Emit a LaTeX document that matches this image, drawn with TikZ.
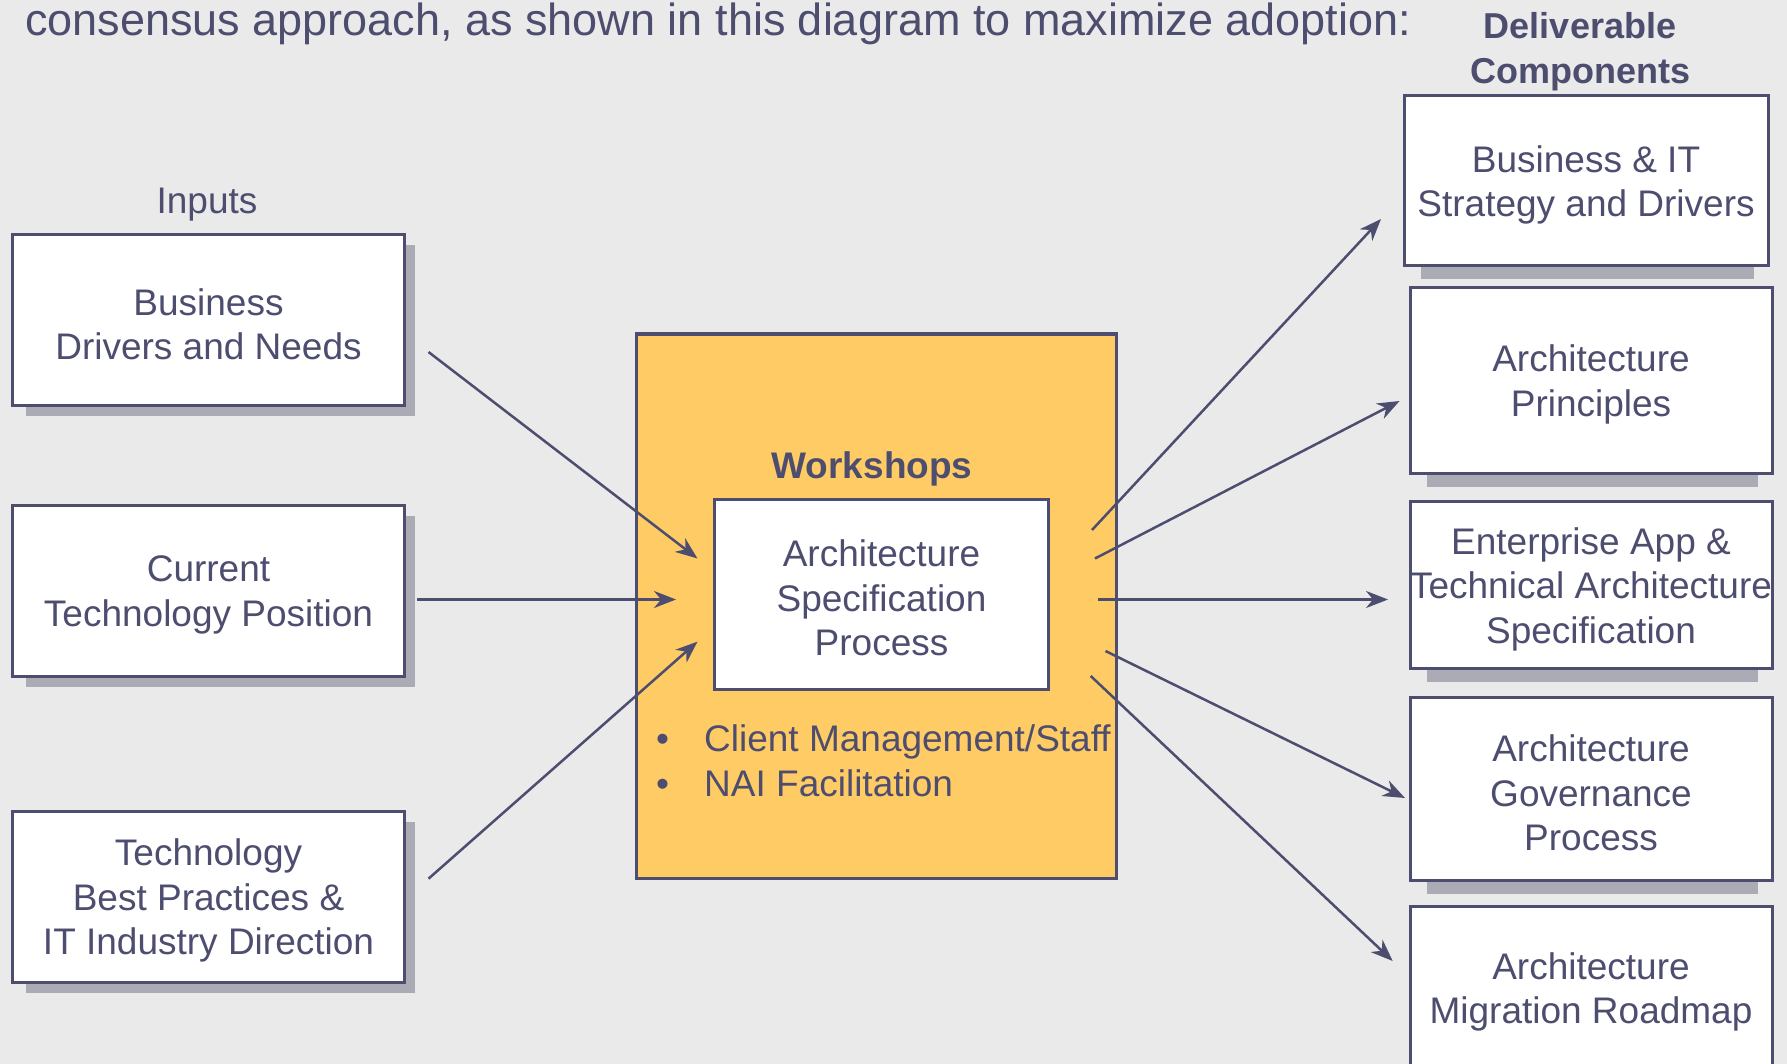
\documentclass[tikz,border=0pt]{standalone}
\usepackage{fontspec}
\setmainfont{Liberation Sans}
\usetikzlibrary{arrows.meta,calc}
\definecolor{ink}{HTML}{4D4D70}
\definecolor{bgc}{HTML}{EAEAEA}
\definecolor{wsfill}{HTML}{FFCB64}
\definecolor{shadowc}{HTML}{ABABB5}
\definecolor{shadowl}{HTML}{C8C8CE}
\newcommand{\tst}{\rule{0pt}{35pt}}
\pgfdeclarelayer{back}
\pgfdeclarelayer{shade}
\pgfsetlayers{back,shade,main}
\begin{document}
\begin{tikzpicture}[x=1pt,y=-1pt,
  txt/.style={font=\fontsize{37pt}{44.5pt}\selectfont, text=ink, align=center, inner sep=0pt},
  box/.style={txt, draw=ink, line width=3pt, fill=white, rectangle},
  conn/.style={draw=ink, line width=2.5pt, -{Stealth[length=22pt,width=17pt,inset=7pt]}},
  lshadow/.style={fill=shadowc},
]
\useasboundingbox (0,0) rectangle (1787,1064);
\clip (0,0) rectangle (1787,1064);
\begin{pgfonlayer}{back}
  \fill[bgc] (0,0) rectangle (1787,1064);
\end{pgfonlayer}

% title
\node[anchor=base west, font=\fontsize{45pt}{54pt}\selectfont, text=ink, inner sep=0pt] (title) at (25,36)
  {consensus approach, as shown in this diagram to maximize adoption:};
\node[txt, font=\bfseries\fontsize{36pt}{44.5pt}\selectfont] (deliv) at (1580,47) {\tst Deliverable\\Components};

% inputs
\node[txt] (inputs) at (207,200) {\tst Inputs};
\node[box, minimum width=392pt, minimum height=170pt] (in1) at (208.5,320) {\tst Business\\Drivers and Needs};
\node[box, minimum width=392pt, minimum height=171pt] (in2) at (208.5,590.5) {\tst Current\\Technology Position};
\node[box, minimum width=392pt, minimum height=171pt] (in3) at (208.5,896.5) {\tst Technology\\Best Practices \&\\IT Industry Direction};

% workshop
\node[draw=ink, line width=3pt, fill=wsfill, minimum width=480pt, minimum height=544pt, inner sep=0pt] (ws) at (876,606) {};
\node[txt, font=\bfseries\fontsize{37pt}{44.5pt}\selectfont] (wstitle) at (872,465) {\tst Workshops};
\node[box, minimum width=334pt, minimum height=190pt] (spec) at (881.5,594) {\tst Architecture\\Specification\\Process};
\node[txt, anchor=base west] (bul1) at (656,751.5) {\makebox[48pt][l]{•}Client Management/Staff};
\node[txt, anchor=base west] (bul2) at (656,796) {\makebox[48pt][l]{•}NAI Facilitation};

% outputs
\node[box, minimum width=364pt, minimum height=170pt] (r1) at (1586,180.6) {\tst Business \& IT\\Strategy and Drivers};
\node[box, minimum width=362pt, minimum height=185pt] (r2) at (1591,380.5) {\tst Architecture\\Principles};
\node[box, minimum width=362pt, minimum height=167.5pt] (r3) at (1591,585) {\tst Enterprise App \&\\\makebox[340pt]{Technical Architecture}\\Specification};
\node[box, minimum width=362pt, minimum height=183.5pt] (r4) at (1591,789) {\tst Architecture\\Governance\\Process};
\node[box, minimum width=362pt, minimum height=164pt] (r5) at (1591,988) {\tst Architecture\\Migration Roadmap};

% shadows
\begin{pgfonlayer}{shade}
  \foreach \n in {in1,in2,in3}{
    \fill[lshadow] ($(\n.north west)+(15,12)$) rectangle ($(\n.south east)+(9,9)$);
  }
  \fill[shadowl] ($(spec.north west)+(20,9)$) rectangle ($(spec.south east)+(8,8)$);
  \foreach \n in {r1,r2,r3,r4}{
    \fill[lshadow] ($(\n.south west)+(18,0)$) rectangle ($(\n.south east)+(-16,12)$);
  }
\end{pgfonlayer}

% connector end points
\coordinate (a1s) at (428.5,352);   \coordinate (a1e) at (697.5,558.5);
\coordinate (a2s) at (417,599.5);   \coordinate (a2e) at (676,599.5);
\coordinate (a3s) at (428.5,878.7); \coordinate (a3e) at (697.5,641.6);
\coordinate (b1s) at (1092,530);    \coordinate (b1e) at (1381,219);
\coordinate (b2s) at (1095,558.5);  \coordinate (b2e) at (1399.5,401);
\coordinate (b3s) at (1097.5,599.5);\coordinate (b3e) at (1388,599.5);
\coordinate (b4s) at (1105.5,651);  \coordinate (b4e) at (1405,798);
\coordinate (b5s) at (1090.7,676);  \coordinate (b5e) at (1392.7,961);

\draw[conn] (a1s) -- (a1e);
\draw[conn] (a2s) -- (a2e);
\draw[conn] (a3s) -- (a3e);
\draw[conn] (b1s) -- (b1e);
\draw[conn] (b2s) -- (b2e);
\draw[conn] (b3s) -- (b3e);
\draw[conn] (b4s) -- (b4e);
\draw[conn] (b5s) -- (b5e);
\end{tikzpicture}
\end{document}
